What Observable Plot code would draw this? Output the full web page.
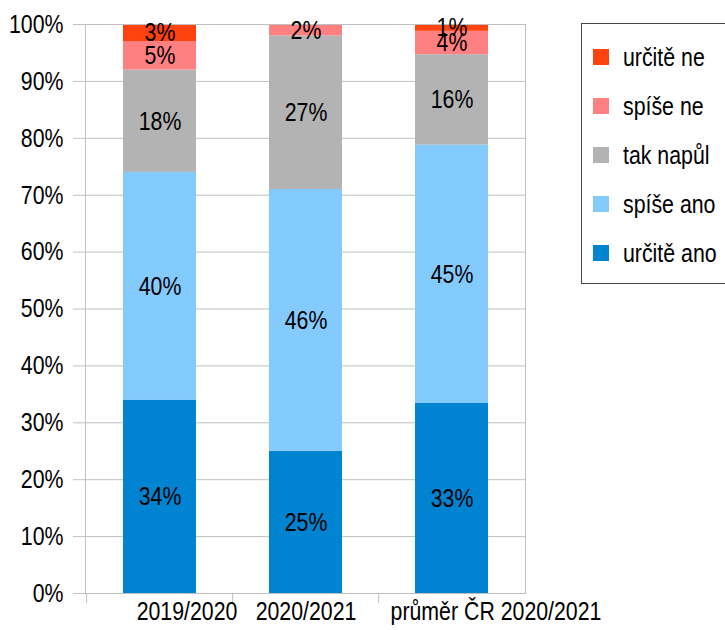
<!DOCTYPE html>
<html><head><meta charset="utf-8">
<script src="https://cdn.jsdelivr.net/npm/d3@7"></script>
<script src="https://cdn.jsdelivr.net/npm/@observablehq/plot@0.6"></script>
<style>
body{margin:0;background:#fff;}
#wrap{position:relative;width:725px;height:630px;overflow:hidden;font-family:"Liberation Sans",Arial,sans-serif;}
#legend{position:absolute;left:581px;top:23px;width:170px;height:261px;border:1px solid #444;box-sizing:border-box;background:#fff;}
.item{position:absolute;left:11px;height:30px;display:flex;align-items:center;font-size:26px;color:#000;white-space:nowrap;}
.sw{width:16px;height:16px;margin-right:14px;flex:none;}
.lt{display:inline-block;transform:scaleX(0.82);transform-origin:left center;}
</style>
</head><body>
<div id="wrap"><div id="chart"></div><div id="legend"></div></div>
<script>
const categories = ["2019/2020", "2020/2021", "průměr ČR 2020/2021"];
const series = ["určitě ano", "spíše ano", "tak napůl", "spíše ne", "určitě ne"];
const urciteAno = [34, 25, 33.4];
const spiseAno = [40, 46, 45.4];
const takNapul = [18, 27, 15.9];
const spiseNe = [5, 2, 4.1];
const urciteNe = [3, 0, 1.2];
const yTicks = [0, 10, 20, 30, 40, 50, 60, 70, 80, 90, 100];
const colors = ["#0084d1", "#83caff", "#b3b3b3", "#ff8080", "#ff420e"];
const labelShift = [27, 0, 44];

const seriesValues = [urciteAno, spiseAno, takNapul, spiseNe, urciteNe];
const data = [];
series.forEach((s, si) => categories.forEach((c, ci) => data.push({cat: c, series: s, value: seriesValues[si][ci]})));

const font = '"Liberation Sans",Arial,sans-serif';
const grid = "#c0c0c0";
const fs = 26;

const marks = [
  Plot.ruleY(yTicks, {y: d => d, stroke: grid, insetLeft: -12}),
  Plot.barY(data, Plot.stackY({x: "cat", y: "value", fill: "series", order: series})),
  Plot.frame({stroke: grid}),
  Plot.ruleX(categories, {x: d => d, y1: -1.8, y2: 0, stroke: grid, dx: -73.33}),
  Plot.text(data.filter(d => d.value > 0), Plot.stackY({x: "cat", y: "value", z: "series", order: series, text: d => Math.round(d.value) + "%", fill: "#000", fontSize: fs})),
  Plot.axisY(yTicks, {tickSize: 0, tickPadding: 22, tickFormat: d => d + "%", fontSize: fs, fill: "#000", label: null})
];
categories.forEach((c, i) => marks.push(
  Plot.text([c], {x: d => d, text: d => d, frameAnchor: "bottom", dy: 18, dx: labelShift[i], lineAnchor: "middle", fontSize: fs, fill: "#000"})
));

const chart = Plot.plot({
  width: 725, height: 630,
  marginLeft: 85, marginRight: 200, marginTop: 24, marginBottom: 37,
  style: {fontFamily: font, fontSize: fs + "px", background: "#fff", color: "#000"},
  x: {domain: categories, paddingInner: 0.5, paddingOuter: 0.25, axis: null},
  y: {domain: [0, 100], axis: null},
  color: {domain: series, range: colors},
  marks
});
// narrow the glyphs horizontally (like a "Narrow" face)
chart.querySelectorAll("text").forEach(t => {
  const tr = t.getAttribute("transform");
  if (tr) t.setAttribute("transform", tr + " scale(0.82,1)");
  else {
    const x = +(t.getAttribute("x") || 0), y = +(t.getAttribute("y") || 0);
    t.removeAttribute("x"); t.removeAttribute("y");
    t.setAttribute("transform", `translate(${x},${y}) scale(0.82,1)`);
  }
});
document.getElementById("chart").appendChild(chart);

const legend = document.getElementById("legend");
series.slice().reverse().forEach((s, i) => {
  const item = document.createElement("div");
  item.className = "item";
  item.style.top = (18 + i * 49) + "px";
  const sw = document.createElement("span");
  sw.className = "sw";
  sw.style.background = colors[series.indexOf(s)];
  const t = document.createElement("span");
  t.className = "lt";
  t.textContent = s;
  item.appendChild(sw); item.appendChild(t);
  legend.appendChild(item);
});
</script>
</body></html>
